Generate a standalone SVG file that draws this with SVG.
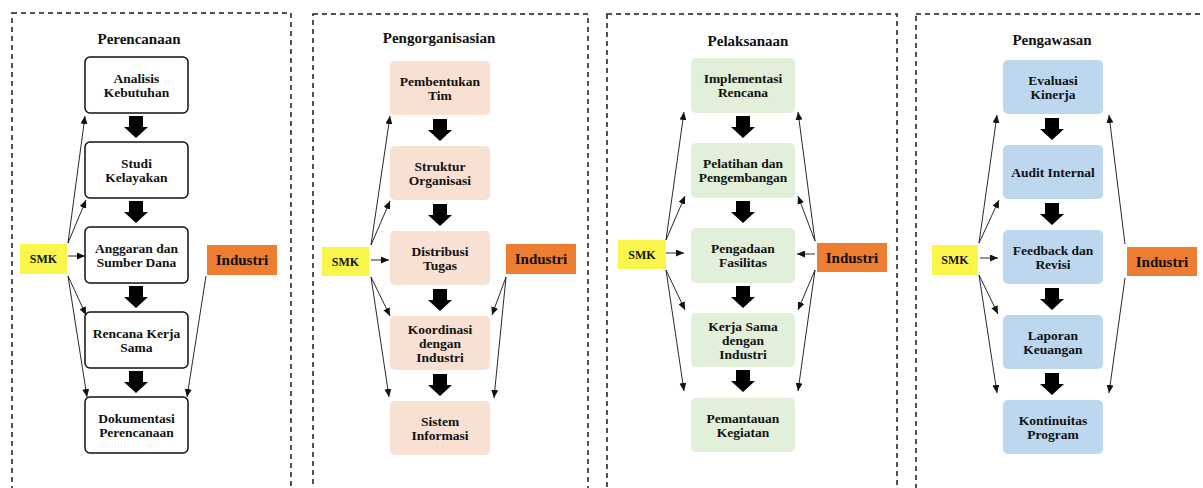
<svg xmlns="http://www.w3.org/2000/svg" xmlns:xlink="http://www.w3.org/1999/xlink" width="1203" height="488" viewBox="0 0 1203 488">
<style>
.panel{fill:none;stroke:#1a1a1a;stroke-width:1.5;stroke-dasharray:5 4}
.title{font-family:"Liberation Serif","Times New Roman",serif;font-weight:bold;font-size:15px;fill:#111;text-anchor:middle}
.lbl{font-family:"Liberation Serif","Times New Roman",serif;font-weight:bold;font-size:13.5px;fill:#111;text-anchor:middle}
.smk{font-family:"Liberation Serif","Times New Roman",serif;font-weight:bold;font-size:12px;fill:#111;text-anchor:middle}
.ind{font-family:"Liberation Serif","Times New Roman",serif;font-weight:bold;font-size:15px;fill:#111;text-anchor:middle}
.b1{fill:#fff;stroke:#111;stroke-width:1.5}
.b2{fill:#F8E0D3}
.b3{fill:#E2EFD9}
.b4{fill:#BDD7EE}
.smkbox{fill:#FAF64B}
.indbox{fill:#ED7D31}
.conn line{stroke:#111;stroke-width:0.9;marker-end:url(#ah)}
.blk{fill:#000}
</style>
<defs>
<marker id="ah" markerUnits="userSpaceOnUse" markerWidth="9" markerHeight="7" refX="8" refY="3.5" orient="auto">
<path d="M0,0 L8,3.5 L0,7 z" fill="#111"/>
</marker>
<path id="blk" d="M-7,0 h14 v11 h5 l-12,11 l-12,-11 h5 z"/>
</defs>

<!-- Panels -->
<g id="panel-perencanaan">
<rect class="panel" x="12" y="13" width="279" height="500"/>
<text class="title" x="139" y="44">Perencanaan</text>
</g>
<g id="panel-pengorganisasian">
<rect class="panel" x="313" y="14" width="275" height="500"/>
<text class="title" x="439" y="43">Pengorganisasian</text>
</g>
<g id="panel-pelaksanaan">
<rect class="panel" x="607" y="14" width="290" height="500"/>
<text class="title" x="748" y="46">Pelaksanaan</text>
</g>
<g id="panel-pengawasan">
<rect class="panel" x="916" y="14" width="300" height="500"/>
<text class="title" x="1052" y="45">Pengawasan</text>
</g>

<!-- Panel 1 nodes -->
<g id="p1-analisis"><rect class="b1" x="85" y="57" width="103" height="56" rx="5"/><text class="lbl" x="136.5" y="82.5">Analisis</text><text class="lbl" x="136.5" y="96.5">Kebutuhan</text></g>
<g id="p1-studi"><rect class="b1" x="85" y="142" width="103" height="56" rx="5"/><text class="lbl" x="136.5" y="167.5">Studi</text><text class="lbl" x="136.5" y="181.5">Kelayakan</text></g>
<g id="p1-anggaran"><rect class="b1" x="85" y="227" width="103" height="56" rx="5"/><text class="lbl" x="136.5" y="252.5">Anggaran dan</text><text class="lbl" x="136.5" y="266.5">Sumber Dana</text></g>
<g id="p1-rencana"><rect class="b1" x="85" y="312" width="103" height="56" rx="5"/><text class="lbl" x="136.5" y="337.5">Rencana Kerja</text><text class="lbl" x="136.5" y="351.5">Sama</text></g>
<g id="p1-dokumentasi"><rect class="b1" x="85" y="397" width="103" height="56" rx="5"/><text class="lbl" x="136.5" y="422.5">Dokumentasi</text><text class="lbl" x="136.5" y="436.5">Perencanaan</text></g>
<g id="p1-smk"><rect class="smkbox" x="20" y="244" width="47" height="30"/><text class="smk" x="43.5" y="263">SMK</text></g>
<g id="p1-industri"><rect class="indbox" x="207" y="245" width="70" height="30"/><text class="ind" x="242" y="265">Industri</text></g>

<!-- Panel 2 nodes -->
<g id="p2-pembentukan"><rect class="b2" x="390" y="61" width="100" height="54" rx="5"/><text class="lbl" x="440" y="85.5">Pembentukan</text><text class="lbl" x="440" y="99.5">Tim</text></g>
<g id="p2-struktur"><rect class="b2" x="390" y="146" width="100" height="54" rx="5"/><text class="lbl" x="440" y="170.5">Struktur</text><text class="lbl" x="440" y="184.5">Organisasi</text></g>
<g id="p2-distribusi"><rect class="b2" x="390" y="231" width="100" height="54" rx="5"/><text class="lbl" x="440" y="255.5">Distribusi</text><text class="lbl" x="440" y="269.5">Tugas</text></g>
<g id="p2-koordinasi"><rect class="b2" x="390" y="316" width="100" height="54" rx="5"/><text class="lbl" x="440" y="333.5">Koordinasi</text><text class="lbl" x="440" y="347.5">dengan</text><text class="lbl" x="440" y="361.5">Industri</text></g>
<g id="p2-sistem"><rect class="b2" x="390" y="401" width="100" height="54" rx="5"/><text class="lbl" x="440" y="425.5">Sistem</text><text class="lbl" x="440" y="439.5">Informasi</text></g>
<g id="p2-smk"><rect class="smkbox" x="322" y="247" width="47" height="29"/><text class="smk" x="345.5" y="265.5">SMK</text></g>
<g id="p2-industri"><rect class="indbox" x="506" y="244" width="70" height="30"/><text class="ind" x="541" y="264">Industri</text></g>

<!-- Panel 3 nodes -->
<g id="p3-implementasi"><rect class="b3" x="691" y="58" width="104" height="55" rx="5"/><text class="lbl" x="743" y="83">Implementasi</text><text class="lbl" x="743" y="97">Rencana</text></g>
<g id="p3-pelatihan"><rect class="b3" x="691" y="143" width="104" height="55" rx="5"/><text class="lbl" x="743" y="168">Pelatihan dan</text><text class="lbl" x="743" y="182">Pengembangan</text></g>
<g id="p3-pengadaan"><rect class="b3" x="691" y="228" width="104" height="55" rx="5"/><text class="lbl" x="743" y="253">Pengadaan</text><text class="lbl" x="743" y="267">Fasilitas</text></g>
<g id="p3-kerjasama"><rect class="b3" x="691" y="313" width="104" height="54" rx="5"/><text class="lbl" x="743" y="330.5">Kerja Sama</text><text class="lbl" x="743" y="344.5">dengan</text><text class="lbl" x="743" y="358.5">Industri</text></g>
<g id="p3-pemantauan"><rect class="b3" x="691" y="398" width="104" height="54" rx="5"/><text class="lbl" x="743" y="422.5">Pemantauan</text><text class="lbl" x="743" y="436.5">Kegiatan</text></g>
<g id="p3-smk"><rect class="smkbox" x="618" y="240" width="48" height="29"/><text class="smk" x="642" y="258.5">SMK</text></g>
<g id="p3-industri"><rect class="indbox" x="817" y="243" width="70" height="29"/><text class="ind" x="852" y="262.5">Industri</text></g>

<!-- Panel 4 nodes -->
<g id="p4-evaluasi"><rect class="b4" x="1003" y="60" width="100" height="54" rx="5"/><text class="lbl" x="1053" y="84.5">Evaluasi</text><text class="lbl" x="1053" y="98.5">Kinerja</text></g>
<g id="p4-audit"><rect class="b4" x="1003" y="145" width="100" height="54" rx="5"/><text class="lbl" x="1053" y="176.5">Audit Internal</text></g>
<g id="p4-feedback"><rect class="b4" x="1003" y="230" width="100" height="54" rx="5"/><text class="lbl" x="1053" y="254.5">Feedback dan</text><text class="lbl" x="1053" y="268.5">Revisi</text></g>
<g id="p4-laporan"><rect class="b4" x="1003" y="315" width="100" height="54" rx="5"/><text class="lbl" x="1053" y="339.5">Laporan</text><text class="lbl" x="1053" y="353.5">Keuangan</text></g>
<g id="p4-kontinuitas"><rect class="b4" x="1003" y="400" width="100" height="54" rx="5"/><text class="lbl" x="1053" y="424.5">Kontinuitas</text><text class="lbl" x="1053" y="438.5">Program</text></g>
<g id="p4-smk"><rect class="smkbox" x="932" y="245" width="46" height="30"/><text class="smk" x="955" y="264">SMK</text></g>
<g id="p4-industri"><rect class="indbox" x="1127" y="247" width="70" height="29"/><text class="ind" x="1162" y="266.5">Industri</text></g>

<!-- Connectors -->
<g id="connectors" class="conn">
<!-- block arrows -->
<use class="blk" xlink:href="#blk" x="136" y="116"/>
<use class="blk" xlink:href="#blk" x="136" y="201"/>
<use class="blk" xlink:href="#blk" x="136" y="286"/>
<use class="blk" xlink:href="#blk" x="136" y="371"/>
<use class="blk" xlink:href="#blk" x="440" y="119"/>
<use class="blk" xlink:href="#blk" x="440" y="204"/>
<use class="blk" xlink:href="#blk" x="440" y="289"/>
<use class="blk" xlink:href="#blk" x="440" y="374"/>
<use class="blk" xlink:href="#blk" x="743" y="116"/>
<use class="blk" xlink:href="#blk" x="743" y="201"/>
<use class="blk" xlink:href="#blk" x="743" y="286"/>
<use class="blk" xlink:href="#blk" x="743" y="370"/>
<use class="blk" xlink:href="#blk" x="1052" y="118"/>
<use class="blk" xlink:href="#blk" x="1052" y="203"/>
<use class="blk" xlink:href="#blk" x="1052" y="288"/>
<use class="blk" xlink:href="#blk" x="1052" y="373"/>

<!-- panel 1 thin arrows -->
<line x1="68" y1="243" x2="85" y2="116"/>
<line x1="68" y1="243" x2="86" y2="200"/>
<line x1="68" y1="256" x2="85" y2="256"/>
<line x1="68" y1="276" x2="86" y2="315"/>
<line x1="68" y1="276" x2="87" y2="397"/>
<line x1="206" y1="276" x2="187" y2="397"/>

<!-- panel 2 thin arrows -->
<line x1="371" y1="245" x2="390" y2="116"/>
<line x1="371" y1="245" x2="390" y2="201"/>
<line x1="371" y1="260" x2="389" y2="260"/>
<line x1="371" y1="277" x2="390" y2="316"/>
<line x1="371" y1="277" x2="389" y2="397"/>
<line x1="506" y1="277" x2="492" y2="315"/>
<line x1="506" y1="277" x2="494" y2="398"/>

<!-- panel 3 thin arrows -->
<line x1="666" y1="240" x2="684" y2="112"/>
<line x1="666" y1="240" x2="685" y2="196"/>
<line x1="666" y1="253" x2="684" y2="253"/>
<line x1="666" y1="270" x2="685" y2="310"/>
<line x1="666" y1="270" x2="684" y2="391"/>
<line x1="815" y1="241" x2="798" y2="112"/>
<line x1="815" y1="241" x2="798" y2="196"/>
<line x1="815" y1="254" x2="797" y2="254"/>
<line x1="815" y1="270" x2="798" y2="310"/>
<line x1="815" y1="270" x2="798" y2="391"/>

<!-- panel 4 thin arrows -->
<line x1="979" y1="243" x2="997" y2="115"/>
<line x1="979" y1="243" x2="999" y2="200"/>
<line x1="980" y1="258" x2="998" y2="258"/>
<line x1="979" y1="275" x2="998" y2="314"/>
<line x1="979" y1="275" x2="997" y2="393"/>
<line x1="1125" y1="244" x2="1109" y2="115"/>
<line x1="1125" y1="278" x2="1109" y2="393"/>
</g>
</svg>
